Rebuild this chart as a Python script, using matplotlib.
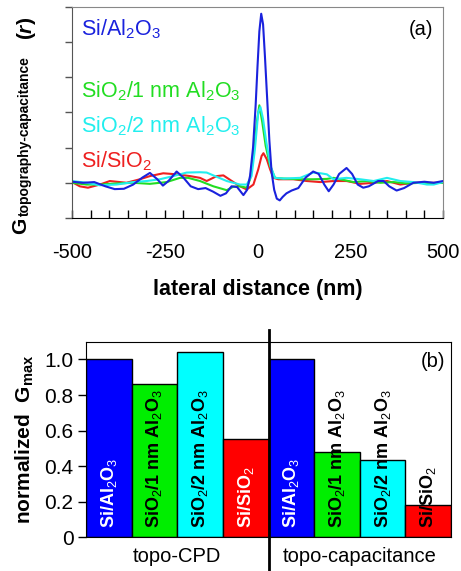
import matplotlib
matplotlib.use("Agg")
import matplotlib.pyplot as plt
import numpy as np

plt.rcParams['font.family'] = ['Liberation Sans', 'DejaVu Sans']
plt.rcParams['mathtext.fontset'] = 'custom'
plt.rcParams['mathtext.rm'] = 'Liberation Sans'
plt.rcParams['mathtext.bf'] = 'Liberation Sans:bold'
plt.rcParams['mathtext.it'] = 'Liberation Sans:italic'
plt.rcParams['mathtext.bfit'] = 'Liberation Sans:bold:italic'

# ---------------- data: panel (a) ----------------
blue_x = [-500, -470, -440, -410, -385, -360, -335, -310, -290, -270, -255, -240, -218, -200,
          -180, -160, -140, -120, -100, -85, -70, -55, -38, -28, -20, -12, -5, 0, 5, 10, 15,
          20, 26, 32, 38, 45, 52, 60, 68, 78, 92, 110, 130, 150, 165, 180, 192, 205, 220,
          240, 255, 270, 285, 300, 325, 340, 355, 375, 395, 420, 450, 475, 500]
blue_y = [0.03, 0.0, 0.02, -0.1, -0.18, -0.17, -0.05, 0.15, 0.28, 0.1, -0.08, 0.05, 0.32, 0.15,
          -0.1, -0.18, -0.15, -0.25, -0.37, -0.3, -0.1, -0.12, -0.35, -0.2, 0.2, 1.0, 2.2, 3.3, 4.3,
          4.8, 4.5, 3.6, 2.4, 1.2, 0.3, -0.2, -0.45, -0.5, -0.4, -0.3, -0.22, -0.15, 0.15, 0.32,
          0.25, -0.05, -0.24, -0.05, 0.25, 0.42, 0.25, -0.05, -0.14, -0.1, 0.05, 0.05, -0.1,
          -0.22, -0.15, 0.0, 0.03, 0.0, 0.05]

green_x = [-500, -461, -425, -380, -335, -290, -245, -209, -187, -155, -119, -83, -65, -47,
           -29, -20, -11, -2, 5, 13, 22, 34, 47, 70, 115, 150, 187, 205, 223, 259, 295, 331,
           367, 403, 439, 475, 500]
green_y = [0.0, -0.05, -0.05, -0.02, 0.0, -0.03, 0.02, 0.14, 0.14, 0.05, -0.1, -0.21, -0.11,
           -0.1, -0.14, 0.1, 0.76, 1.71, 2.2, 1.71, 1.05, 0.48, 0.14, 0.12, 0.1, 0.1, 0.11,
           0.14, 0.1, 0.02, 0.05, 0.0, 0.02, -0.02, 0.0, -0.01, 0.0]

cyan_x = [-500, -461, -425, -380, -335, -299, -263, -227, -191, -155, -137, -110, -83, -65,
          -47, -29, -16, -7, 2, 8, 15, 24, 35, 47, 70, 115, 150, 170, 187, 205, 240, 277, 313,
          349, 385, 421, 457, 475, 500]
cyan_y = [0.05, 0.0, -0.07, -0.05, 0.02, 0.05, 0.1, 0.19, 0.29, 0.3, 0.29, 0.17, 0.05, 0.0,
          -0.05, -0.05, 0.19, 0.95, 2.0, 2.15, 1.81, 1.14, 0.48, 0.14, 0.12, 0.14, 0.29, 0.27,
          0.24, 0.1, 0.14, 0.1, 0.05, 0.14, 0.05, 0.02, -0.05, -0.05, 0.02]

red_x = [-500, -479, -457, -425, -398, -353, -317, -290, -254, -218, -182, -155, -137, -110,
         -92, -65, -47, -29, -11, 2, 11, 16, 25, 34, 43, 56, 97, 133, 169, 205, 240, 277,
         313, 349, 385, 421, 457, 500]
red_y = [0.02, -0.1, -0.14, -0.05, 0.05, 0.0, 0.1, 0.19, 0.27, 0.24, 0.19, 0.14, 0.05, 0.19,
         0.21, 0.02, -0.1, -0.19, -0.05, 0.38, 0.76, 0.84, 0.67, 0.38, 0.14, 0.1, 0.1, 0.05,
         0.02, 0.05, 0.05, -0.03, 0.0, 0.05, -0.05, 0.0, 0.0, 0.0]

x_ticks = [-500, -250, 0, 250, 500]
x_tick_labels = ['-500', '-250', '0', '250', '500']

# ---------------- data: panel (b) ----------------
bar_labels = ['Si/Al$_2$O$_3$', 'SiO$_2$/1 nm Al$_2$O$_3$', 'SiO$_2$/2 nm Al$_2$O$_3$', 'Si/SiO$_2$',
              'Si/Al$_2$O$_3$', 'SiO$_2$/1 nm Al$_2$O$_3$', 'SiO$_2$/2 nm Al$_2$O$_3$', 'Si/SiO$_2$']
bar_values = [1.0, 0.86, 1.04, 0.555, 1.0, 0.48, 0.435, 0.18]
groups = ['topo-CPD', 'topo-capacitance']
y_ticks_b = [0, 0.2, 0.4, 0.6, 0.8, 1.0]
y_tick_labels_b = ['0', '0.2', '0.4', '0.6', '0.8', '1.0']

line_colors = ['#1a22dd', '#22dd22', '#22eeee', '#ee2020']
bar_colors = ['#0000ff', '#00ee00', '#00ffff', '#ff0000'] * 2
bar_text_colors = ['white', 'black', 'black', 'white', 'white', 'black', 'black', 'black']

W, H = 461, 571
fig = plt.figure(figsize=(W / 100, H / 100), dpi=100)

# ---------------- panel (a) ----------------
axa = fig.add_axes([72 / W, 1 - 218 / H, (443 - 72) / W, (218 - 6.7) / H])
for xs, ys, c in [(red_x, red_y, line_colors[3]), (green_x, green_y, line_colors[1]),
                  (cyan_x, cyan_y, line_colors[2]), (blue_x, blue_y, line_colors[0])]:
    axa.plot(xs, ys, color=c, lw=1.5)
axa.set_xlim(-500, 500)
axa.set_ylim(-1, 5)
axa.set_xticks(x_ticks)
axa.set_xticklabels(x_tick_labels, fontsize=14.5)
axa.set_xticks(np.arange(-450, 500, 50), minor=True)
axa.tick_params(axis='x', which='both', direction='in', length=6, width=1, pad=18, top=False)
axa.set_yticks(np.arange(-1, 6, 1))
axa.set_yticklabels([])
axa.tick_params(axis='y', direction='out', length=5, width=1, color='#555555')
for s in ['top', 'right']:
    axa.spines[s].set_color('#888888')
axa.spines['left'].set_color('#555555')
axa.set_xlabel('lateral distance (nm)', fontsize=15.5, fontweight='bold', labelpad=12)

axa.text(0.023, 0.893, 'Si/Al$_2$O$_3$', color=line_colors[0], fontsize=15.5,
         transform=axa.transAxes, va='center', ha='left')
axa.text(0.023, 0.60, 'SiO$_2$/1 nm Al$_2$O$_3$', color=line_colors[1], fontsize=15.5,
         transform=axa.transAxes, va='center', ha='left')
axa.text(0.023, 0.435, 'SiO$_2$/2 nm Al$_2$O$_3$', color=line_colors[2], fontsize=15.5,
         transform=axa.transAxes, va='center', ha='left')
axa.text(0.023, 0.27, 'Si/SiO$_2$', color=line_colors[3], fontsize=15.5,
         transform=axa.transAxes, va='center', ha='left')
axa.text(0.975, 0.893, '(a)', color='black', fontsize=14.5,
         transform=axa.transAxes, va='center', ha='right')

fig.text(21 / W, 1 - 226 / H, 'G', rotation=90, fontsize=15, fontweight='bold',
         ha='center', va='center')
fig.text(25 / W, 1 - 136 / H, 'topography-capacitance', rotation=90, fontsize=10,
         fontweight='bold', ha='center', va='center')
fig.text(26 / W, 1 - 28 / H, r'$\mathbf{(}\boldsymbol{r}\mathbf{)}$', rotation=90, fontsize=15,
         ha='center', va='center')

# ---------------- panel (b) ----------------
axb = fig.add_axes([86 / W, 1 - 537.3 / H, (451 - 86) / W, (537.3 - 341.7) / H])
xpos = np.arange(len(bar_values))
axb.bar(xpos, bar_values, width=1.0, color=bar_colors, edgecolor='black', linewidth=1)
for x, lab, tc in zip(xpos, bar_labels, bar_text_colors):
    axb.text(x, 0.05, lab, rotation=90, ha='center', va='bottom', color=tc,
             fontsize=13, fontweight='bold')
axb.set_xlim(-0.5, 7.5)
axb.set_ylim(0, 1.1)
axb.set_xticks([])
axb.set_yticks(y_ticks_b)
axb.set_yticklabels(y_tick_labels_b, fontsize=15)
axb.tick_params(axis='y', direction='out', length=6, width=1, pad=3)
axb.axvline(3.5, ymin=-0.17, ymax=1.06, clip_on=False, color='black', lw=2)
axb.text(1.5, -0.10, groups[0], transform=axb.get_xaxis_transform(), ha='center',
         va='center', fontsize=14.5)
axb.text(5.5, -0.10, groups[1], transform=axb.get_xaxis_transform(), ha='center',
         va='center', fontsize=14.5)
axb.text(0.985, 0.9, '(b)', transform=axb.transAxes, ha='right', va='center', fontsize=14.5)
axb.set_ylabel(r'normalized  G$_{\mathregular{max}}$', fontsize=15, fontweight='bold', labelpad=6)

fig.savefig('out.png', dpi=100)
